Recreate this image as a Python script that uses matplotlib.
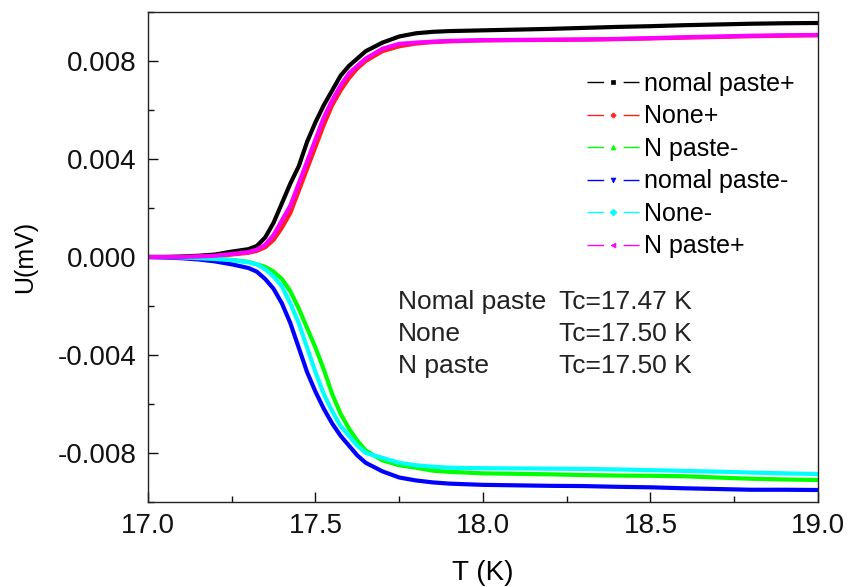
import matplotlib
matplotlib.use("Agg")
import matplotlib.pyplot as plt
from matplotlib.lines import Line2D
from matplotlib.ticker import MultipleLocator, FormatStrFormatter

plt.rcParams["font.family"] = ["Liberation Sans", "DejaVu Sans"]
plt.rcParams["axes.unicode_minus"] = False

# temperature grid (K), shared by every sweep
T = [17.00, 17.05, 17.10, 17.15, 17.20, 17.25, 17.30, 17.325, 17.35, 17.375,
     17.40, 17.425, 17.45, 17.475, 17.50, 17.525, 17.55, 17.575, 17.60, 17.625,
     17.65, 17.70, 17.75, 17.80, 17.85, 17.90, 18.0, 18.1, 18.2, 18.3,
     18.4, 18.5, 18.6, 18.7, 18.8, 18.9, 19.0]

# voltage (mV) for each sample / current direction
nomal_paste_pos = [0.0, 0.0, 0.00002, 0.00005, 0.0001, 0.00022, 0.00032, 0.00045, 0.0008, 0.0014,
                   0.0022, 0.0030, 0.0037, 0.0047, 0.0055, 0.0062, 0.0068, 0.0074, 0.0078, 0.0081,
                   0.0084, 0.00875, 0.0090, 0.00913, 0.00919, 0.00922, 0.00925, 0.00928, 0.00931, 0.00935,
                   0.00939, 0.00942, 0.00946, 0.00949, 0.00952, 0.00954, 0.00955]
none_pos = [0.0, 0.0, 0.0, 0.00002, 0.00004, 0.0001, 0.00017, 0.00025, 0.0004, 0.0007,
            0.0012, 0.0018, 0.0027, 0.0036, 0.0045, 0.0054, 0.0062, 0.0068, 0.0073, 0.0077,
            0.0080, 0.0084, 0.0086, 0.00871, 0.00877, 0.0088, 0.00884, 0.00885, 0.00886, 0.00887,
            0.00889, 0.00892, 0.00895, 0.00898, 0.00901, 0.00903, 0.00905]
n_paste_neg = [0.0, 0.0, -0.00002, -0.00004, -0.00007, -0.00012, -0.0002, -0.0003, -0.0004, -0.0006,
               -0.0009, -0.0014, -0.0021, -0.0029, -0.0037, -0.0046, -0.0056, -0.0064, -0.0070, -0.0075,
               -0.0079, -0.0083, -0.0085, -0.0086, -0.00872, -0.00877, -0.00883, -0.00885, -0.00887, -0.0089,
               -0.00892, -0.00893, -0.00895, -0.009, -0.00905, -0.00908, -0.0091]
nomal_paste_neg = [0.0, -0.00002, -0.00005, -0.0001, -0.00018, -0.0003, -0.00045, -0.0006, -0.0009, -0.0013,
                   -0.0019, -0.0027, -0.0037, -0.0047, -0.0055, -0.0062, -0.0068, -0.0073, -0.0077, -0.0081,
                   -0.0084, -0.00875, -0.0090, -0.00912, -0.0092, -0.00925, -0.0093, -0.00932, -0.00934, -0.00935,
                   -0.00938, -0.0094, -0.00944, -0.00947, -0.0095, -0.0095, -0.00951]
none_neg = [0.0, 0.0, -0.00002, -0.00005, -0.00008, -0.00013, -0.00022, -0.0003, -0.0005, -0.0008,
            -0.0012, -0.0019, -0.0027, -0.0037, -0.0047, -0.0056, -0.0063, -0.0069, -0.0073, -0.0077,
            -0.0080, -0.0082, -0.0084, -0.0085, -0.00856, -0.0086, -0.00862, -0.00863, -0.00864, -0.00865,
            -0.00867, -0.0087, -0.00873, -0.00876, -0.0088, -0.00883, -0.00886]
n_paste_pos = [0.0, 0.0, 0.0, 0.00002, 0.00005, 0.00012, 0.0002, 0.0003, 0.0005, 0.0009,
               0.0015, 0.0021, 0.0030, 0.0039, 0.0048, 0.0057, 0.0064, 0.0070, 0.0075, 0.0078,
               0.0081, 0.0085, 0.0087, 0.00875, 0.00879, 0.00882, 0.00885, 0.00886, 0.00887, 0.00888,
               0.0089, 0.00893, 0.00897, 0.009, 0.00903, 0.00905, 0.00906]

SERIES = [
    ("nomal paste+", nomal_paste_pos, "#000000", "s"),
    ("None+", none_pos, "#ff2020", "P"),
    ("N paste-", n_paste_neg, "#00ff00", "^"),
    ("nomal paste-", nomal_paste_neg, "#0000ff", "v"),
    ("None-", none_neg, "#00ffff", "D"),
    ("N paste+", n_paste_pos, "#ff00ff", "<"),
]

TC_NAMES = ["Nomal paste", "None", "N paste"]
TC_VALUES = ["Tc=17.47 K", "Tc=17.50 K", "Tc=17.50 K"]

fig = plt.figure(figsize=(8.48, 5.87), dpi=100)
ax = fig.add_axes([0.1745, 0.1448, 0.7901, 0.8348])

handles = []
for label, u, color, marker in SERIES:
    ax.plot(T, u, color=color, lw=3.0, solid_capstyle="butt", solid_joinstyle="round")
    handles.append(Line2D([], [], color=color, lw=1.0, linestyle=(0, (12, 14)),
                          marker=marker, markersize=3.5, markeredgewidth=0.5,
                          markerfacecolor=color, markeredgecolor=color, label=label))

leg = ax.legend(handles=handles, loc="upper left", bbox_to_anchor=(0.64, 0.898),
                frameon=False, fontsize=18, handlelength=2.1, handletextpad=0.2,
                labelspacing=0.34, numpoints=1, borderaxespad=0)

ty = [-0.00184, -0.00314, -0.00445]
for name, val, y in zip(TC_NAMES, TC_VALUES, ty):
    ax.text(17.746, y, name, fontsize=19, color="#222222", va="center", ha="left")
    ax.text(18.624, y, val, fontsize=19, color="#222222", va="center", ha="right")

ax.set_xlim(17.0, 19.0)
ax.set_ylim(-0.010, 0.010)
ax.xaxis.set_major_locator(MultipleLocator(0.5))
ax.xaxis.set_minor_locator(MultipleLocator(0.25))
ax.yaxis.set_major_locator(MultipleLocator(0.004))
ax.yaxis.set_minor_locator(MultipleLocator(0.002))
ax.xaxis.set_major_formatter(FormatStrFormatter("%.1f"))
ax.yaxis.set_major_formatter(FormatStrFormatter("%.3f"))
ax.tick_params(which="both", direction="in", top=False, right=False, width=1.0,
               labelsize=20, colors="#111111")
ax.tick_params(which="major", length=7)
ax.tick_params(which="minor", length=4)
ax.tick_params(axis="y", pad=8)
ax.tick_params(axis="x", pad=8)
for sp in ax.spines.values():
    sp.set_linewidth(1.0)
    sp.set_color("#222222")

ax.set_xlabel("T (K)", fontsize=20, labelpad=15)
ax.set_ylabel("U(mV)", fontsize=18, labelpad=15)

fig.savefig("out.png", dpi=100, facecolor="white")
